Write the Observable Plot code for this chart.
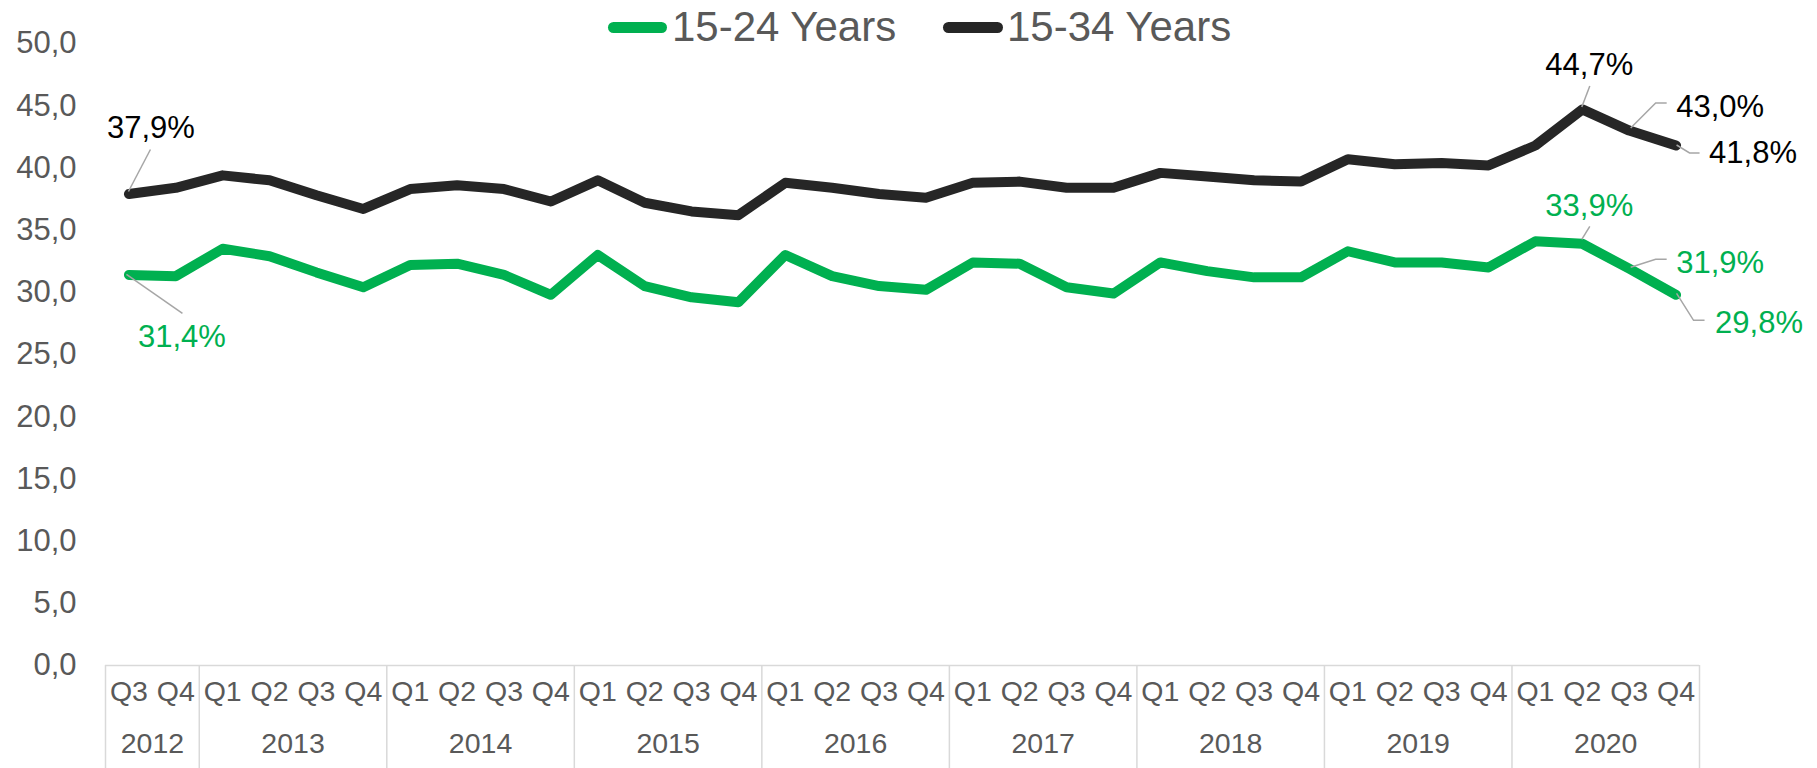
<!DOCTYPE html>
<html>
<head>
<meta charset="utf-8">
<script src="https://cdn.jsdelivr.net/npm/d3@7"></script>
<script src="https://cdn.jsdelivr.net/npm/@observablehq/plot@0.6"></script>
<style>
html, body { margin: 0; padding: 0; background: #fff; overflow: hidden; }
#wrap { position: relative; width: 1817px; height: 768px; font-family: "Liberation Sans", Arial, sans-serif; }
.sw { position: absolute; height: 11px; border-radius: 6px; }
.lt { position: absolute; font-size: 42px; line-height: 1; color: #595959; white-space: nowrap; }
</style>
</head>
<body>
<div id="wrap">
  <div class="sw" style="left:608px; top:21.5px; width:59px; background:#00B050"></div>
  <div class="lt" id="lg0" style="left:672px; top:6.2px"></div>
  <div class="sw" style="left:943px; top:21.5px; width:60px; background:#262626"></div>
  <div class="lt" id="lg1" style="left:1007px; top:6.2px"></div>
</div>
<script>
// ---------------- data ----------------
const quarterLabels = ["Q3","Q4",
  "Q1","Q2","Q3","Q4", "Q1","Q2","Q3","Q4", "Q1","Q2","Q3","Q4", "Q1","Q2","Q3","Q4",
  "Q1","Q2","Q3","Q4", "Q1","Q2","Q3","Q4", "Q1","Q2","Q3","Q4", "Q1","Q2","Q3","Q4"];
const quarterYears = ["2012","2012",
  "2013","2013","2013","2013", "2014","2014","2014","2014", "2015","2015","2015","2015",
  "2016","2016","2016","2016", "2017","2017","2017","2017", "2018","2018","2018","2018",
  "2019","2019","2019","2019", "2020","2020","2020","2020"];
const seriesNames = ["15-24 Years", "15-34 Years"];
const values1524 = [31.4,31.3, 33.5,32.9,31.6,30.4, 32.2,32.3,31.4,29.8, 33.0,30.5,29.6,29.2,
  33.0,31.3,30.5,30.2, 32.4,32.3,30.4,29.9, 32.4,31.7,31.2,31.2, 33.3,32.4,32.4,32.0, 34.1,33.9,31.9,29.8];
const values1534 = [37.9,38.4, 39.4,39.0,37.8,36.7, 38.3,38.6,38.3,37.3, 39.0,37.2,36.5,36.2,
  38.8,38.4,37.9,37.6, 38.8,38.9,38.4,38.4, 39.6,39.3,39.0,38.9, 40.7,40.3,40.4,40.2, 41.8,44.7,43.0,41.8];
const yTicks = [0,5,10,15,20,25,30,35,40,45,50];
const labelledIndices = [0, 31, 32, 33];

// ---------------- styling ----------------
const seriesColors = ["#00B050", "#262626"];
const labelColors = ["#00B050", "#000000"];
// per series, per labelled index: text anchor, text offset, leader polyline offsets (px)
const labelStyle = {
  "15-24 Years": {
    0:  {anchor: "middle", dx: 53, dy: 62.5, leader: [[-2,0],[54,39]]},
    31: {anchor: "middle", dx: 7,  dy: -38,  leader: [[0,-4],[8,-17]]},
    32: {anchor: "start",  dx: 47, dy: -6,   leader: [[2,-1],[27,-9],[38,-9]]},
    33: {anchor: "start",  dx: 39, dy: 28,   leader: [[1,-1],[18,26],[29,26]]}
  },
  "15-34 Years": {
    0:  {anchor: "middle", dx: 22, dy: -66,  leader: [[0,-2],[22,-44]]},
    31: {anchor: "middle", dx: 7,  dy: -44,  leader: [[0,-2],[8,-23]]},
    32: {anchor: "start",  dx: 47, dy: -24,  leader: [[2,-2],[27,-27],[38,-27]]},
    33: {anchor: "start",  dx: 33, dy: 8,    leader: [[1,0],[14,8],[24,8]]}
  }
};

document.getElementById("lg0").textContent = seriesNames[0];
document.getElementById("lg1").textContent = seriesNames[1];

// ---------------- derived tables ----------------
const rows = quarterLabels.map((q, i) => ({i, q, year: quarterYears[i]}));
const seriesValues = [values1524, values1534];
const long = [];
seriesNames.forEach((s, k) => seriesValues[k].forEach((v, i) => long.push({i, v, s})));
const yearGroups = d3.groups(rows, d => d.year).map(([year, r]) => ({
  year, center: d3.mean(r, d => d.i), start: d3.min(r, d => d.i) - 0.5, end: d3.max(r, d => d.i) + 0.5
}));
const boundaries = yearGroups.map(d => d.start).concat([yearGroups[yearGroups.length - 1].end]);
const fmt = v => v.toFixed(1).replace(".", ",") + "%";

const labelMarks = [];
const leaderSpecs = [];
seriesNames.forEach((s, k) => {
  labelledIndices.forEach(i => {
    const st = labelStyle[s][i];
    const datum = [{i, v: seriesValues[k][i]}];
    labelMarks.push(Plot.text(datum, {
      x: "i", y: "v", text: d => fmt(d.v), textAnchor: st.anchor, dx: st.dx, dy: st.dy,
      fill: labelColors[k], fontSize: 31
    }));
    leaderSpecs.push({i, v: seriesValues[k][i], pts: st.leader});
  });
});

function leaderMark(index, scales) {
  const g = d3.create("svg:g").attr("fill", "none").attr("stroke", "#a6a6a6").attr("stroke-width", 1.5);
  for (const L of leaderSpecs) {
    const px = scales.x(L.i), py = scales.y(L.v);
    g.append("path").attr("d", d3.line()(L.pts.map(([dx, dy]) => [px + dx, py + dy])));
  }
  return g.node();
}

const W = 1817, H = 768, mTop = 43, mBottom = 103, mLeft = 105, mRight = 118;

const chart = Plot.plot({
  width: W,
  height: H,
  marginTop: mTop,
  marginBottom: mBottom,
  marginLeft: mLeft,
  marginRight: mRight,
  style: {fontFamily: "'Liberation Sans', Arial, sans-serif", fontSize: "31px", color: "#595959", background: "#fff"},
  x: {domain: [-0.5, quarterLabels.length - 0.5], axis: null},
  y: {domain: [0, 50], ticks: yTicks, tickSize: 0, tickPadding: 29, label: null,
      tickFormat: d => d.toFixed(1).replace(".", ",")},
  color: {domain: seriesNames, range: seriesColors},
  marks: [
    Plot.ruleY([0], {stroke: "#d9d9d9", strokeWidth: 1.5}),
    Plot.ruleX(boundaries, {x: d => d, stroke: "#d9d9d9", strokeWidth: 1.5,
      insetTop: H - mTop - mBottom, insetBottom: -mBottom}),
    Plot.text(rows, {x: "i", text: "q", frameAnchor: "bottom", dy: 35, fontSize: 28.5, fill: "#595959"}),
    Plot.text(yearGroups, {x: "center", text: "year", frameAnchor: "bottom", dy: 87, fontSize: 28.5, fill: "#595959"}),
    Plot.line(long, {x: "i", y: "v", z: "s", stroke: "s", strokeWidth: 10,
      strokeLinecap: "round", strokeLinejoin: "round"}),
    leaderMark,
    ...labelMarks
  ]
});
const wrap = document.getElementById("wrap");
chart.style.position = "absolute";
chart.style.left = "0px";
chart.style.top = "0px";
wrap.insertBefore(chart, wrap.firstChild);
</script>
</body>
</html>
